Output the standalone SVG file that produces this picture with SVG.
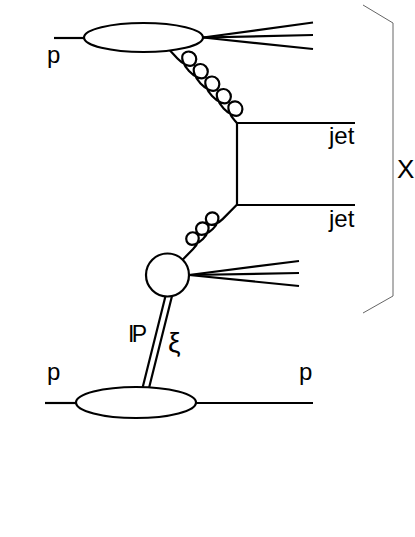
<svg xmlns="http://www.w3.org/2000/svg" width="415" height="537" viewBox="0 0 415 537">
<style>
.ln{fill:none;stroke:#000;stroke-width:2.2;stroke-linecap:butt}
.blob{fill:#fff;stroke:#000;stroke-width:2.2}
.br{fill:none;stroke:#666;stroke-width:1}
.t{font-family:"Liberation Sans",Arial,sans-serif;fill:#000}
</style>
<rect width="415" height="537" fill="#fff"/>
<g id="connectors">
  <line class="ln" x1="54" y1="38" x2="84" y2="38"/>
  <line class="ln" x1="203" y1="37.5" x2="313" y2="22.5"/>
  <line class="ln" x1="203" y1="37.5" x2="313" y2="35"/>
  <line class="ln" x1="203" y1="37.5" x2="313" y2="49"/>
  <path class="ln" transform="translate(170,50.5) rotate(47.26)" d="M0,0 L11,0
    C19,0 26.5,-3 26.5,-8 A7.5,7.5 0 0 0 11.5,-8 C11.5,-3 20,0 28,0
    C36,0 43.5,-3 43.5,-8 A7.5,7.5 0 0 0 28.5,-8 C28.5,-3 37,0 45,0
    C53,0 60.5,-3 60.5,-8 A7.5,7.5 0 0 0 45.5,-8 C45.5,-3 54,0 62,0
    C70,0 77.5,-3 77.5,-8 A7.5,7.5 0 0 0 62.5,-8 C62.5,-3 71,0 79,0
    C87,0 94.5,-3 94.5,-8 A7.5,7.5 0 0 0 79.5,-8 C79.5,-3 88,0 96,0 L98.7,0"/>
  <line class="ln" x1="237" y1="122" x2="237" y2="206"/>
  <line class="ln" x1="236" y1="123" x2="355" y2="123"/>
  <line class="ln" x1="236" y1="205" x2="355" y2="205"/>
  <path class="ln" transform="translate(182.6,259.7) rotate(-45.4)" d="M0,0 L15,0
    C22,0 28.5,-3 28.5,-7.5 A6.5,6.5 0 0 0 15.5,-7.5 C15.5,-3 22,0 29,0
    C36,0 42.5,-3 42.5,-7.5 A6.5,6.5 0 0 0 29.5,-7.5 C29.5,-3 36,0 43,0
    C50,0 56.5,-3 56.5,-7.5 A6.5,6.5 0 0 0 43.5,-7.5 C43.5,-3 50,0 57,0 L76.9,0"/>
  <line class="ln" x1="189" y1="275" x2="299" y2="261"/>
  <line class="ln" x1="189" y1="275" x2="299" y2="273"/>
  <line class="ln" x1="189" y1="275" x2="299" y2="286"/>
  <line class="ln" x1="165.5" y1="296" x2="142.5" y2="388"/>
  <line class="ln" x1="172" y1="296" x2="149" y2="388"/>
  <line class="ln" x1="45" y1="403" x2="76" y2="403"/>
  <line class="ln" x1="196" y1="403" x2="313" y2="403"/>
</g>
<g id="proton-top">
  <ellipse class="blob" cx="143.5" cy="37.5" rx="59.5" ry="14.5"/>
</g>
<g id="pomeron-blob">
  <circle class="blob" cx="167.5" cy="275" r="21.5"/>
</g>
<g id="proton-bottom">
  <ellipse class="blob" cx="136" cy="402.5" rx="60" ry="15.5"/>
</g>
<g id="bracket-X">
  <path class="br" d="M363,5 L393,23 L393,296 L363,313"/>
  <text class="t" x="397" y="178" font-size="26">X</text>
</g>
<g id="labels">
  <text class="t" x="47" y="63" font-size="24">p</text>
  <text class="t" x="329" y="144" font-size="24">jet</text>
  <text class="t" x="329" y="227" font-size="24">jet</text>
  <text class="t" x="47" y="380" font-size="24">p</text>
  <text class="t" x="299" y="380" font-size="24">p</text>
  <text class="t" x="128" y="342" font-size="23" letter-spacing="-2.7">IP</text>
  <text class="t" x="168" y="352" font-size="28">ξ</text>
</g>
</svg>
